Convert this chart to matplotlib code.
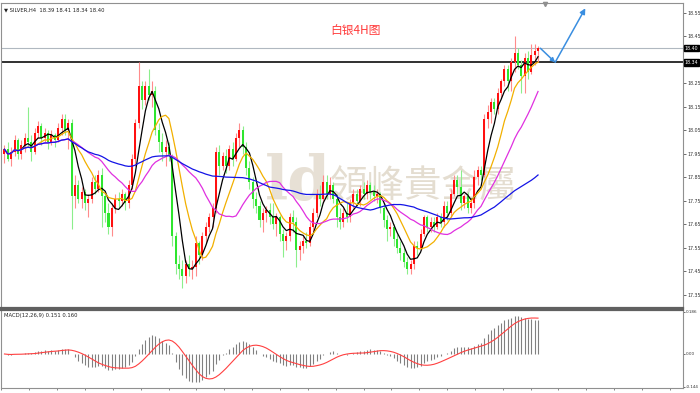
import numpy as np
import pandas as pd
import matplotlib
matplotlib.use("Agg")
import matplotlib.pyplot as plt

# SILVER H4 candles (open / high / low / close)
opens = [17.95, 17.97, 17.93, 17.96, 18.01, 17.95, 17.99, 18.02, 18.00, 17.96,
         18.04, 18.07, 18.02, 18.04, 18.00, 18.03, 18.01, 18.06, 18.10, 18.05,
         18.08, 17.77, 17.82, 17.76, 17.79, 17.74, 17.76, 17.83, 17.80, 17.86,
         17.77, 17.70, 17.64, 17.72, 17.76, 17.75, 17.78, 17.74, 17.82, 17.93,
         18.08, 18.24, 18.18, 18.24, 18.20, 18.22, 18.05, 18.00, 17.96, 17.98,
         17.94, 17.60, 17.48, 17.46, 17.43, 17.48, 17.46, 17.47, 17.57, 17.52,
         17.60, 17.64, 17.68, 17.72, 17.96, 17.90, 17.94, 17.90, 17.97, 17.93,
         18.02, 18.05, 17.98, 17.89, 17.83, 17.76, 17.73, 17.67, 17.70, 17.71,
         17.68, 17.65, 17.68, 17.61, 17.58, 17.60, 17.68, 17.66, 17.54, 17.56,
         17.58, 17.57, 17.64, 17.70, 17.78, 17.76, 17.83, 17.78, 17.82, 17.76,
         17.68, 17.66, 17.70, 17.68, 17.74, 17.78, 17.75, 17.80, 17.78, 17.82,
         17.79, 17.77, 17.78, 17.72, 17.67, 17.63, 17.64, 17.59, 17.55, 17.53,
         17.49, 17.46, 17.48, 17.56, 17.55, 17.61, 17.68, 17.64, 17.66, 17.64,
         17.68, 17.66, 17.73, 17.70, 17.78, 17.84, 17.81, 17.74, 17.77, 17.72,
         17.74, 17.85, 17.88, 17.86, 18.10, 18.13, 18.17, 18.14, 18.21, 18.26,
         18.31, 18.26, 18.34, 18.38, 18.33, 18.28, 18.36, 18.30, 18.37, 18.39]
highs = [17.99, 18.00, 17.98, 18.03, 18.02, 18.01, 18.04, 18.15, 18.03, 18.06,
         18.09, 18.08, 18.06, 18.05, 18.05, 18.04, 18.08, 18.12, 18.12, 18.10,
         18.10, 17.86, 17.84, 17.81, 17.80, 17.78, 17.85, 17.86, 17.88, 17.89,
         17.79, 17.74, 17.74, 17.78, 17.79, 17.80, 17.79, 17.84, 17.95, 18.10,
         18.34, 18.26, 18.26, 18.31, 18.26, 18.24, 18.08, 18.04, 18.01, 18.00,
         17.95, 17.62, 17.52, 17.50, 17.50, 17.52, 17.50, 17.60, 17.58, 17.62,
         17.66, 17.70, 17.74, 17.98, 17.99, 17.96, 17.97, 17.99, 18.00, 18.04,
         18.08, 18.07, 18.00, 17.92, 17.85, 17.79, 17.75, 17.72, 17.73, 17.74,
         17.74, 17.70, 17.69, 17.63, 17.62, 17.70, 17.71, 17.68, 17.58, 17.60,
         17.62, 17.66, 17.72, 17.80, 17.82, 17.86, 17.86, 17.85, 17.83, 17.78,
         17.72, 17.72, 17.74, 17.76, 17.80, 17.80, 17.82, 17.83, 17.84, 17.83,
         17.82, 17.80, 17.79, 17.74, 17.69, 17.66, 17.65, 17.61, 17.58, 17.55,
         17.51, 17.50, 17.58, 17.58, 17.63, 17.69, 17.69, 17.68, 17.68, 17.70,
         17.70, 17.75, 17.75, 17.80, 17.86, 17.86, 17.88, 17.78, 17.79, 17.76,
         17.88, 17.90, 17.90, 18.12, 18.16, 18.19, 18.19, 18.23, 18.27, 18.33,
         18.33, 18.36, 18.45, 18.40, 18.35, 18.38, 18.39, 18.42, 18.42, 18.41]
lows = [17.91, 17.92, 17.90, 17.94, 17.93, 17.93, 17.96, 17.98, 17.92, 17.95,
        18.02, 17.99, 18.00, 17.97, 17.99, 17.98, 18.00, 18.03, 18.03, 17.97,
        17.63, 17.72, 17.74, 17.72, 17.71, 17.68, 17.74, 17.78, 17.79, 17.64,
        17.66, 17.61, 17.60, 17.70, 17.72, 17.73, 17.71, 17.72, 17.80, 17.90,
        18.06, 18.14, 18.16, 18.18, 18.15, 18.03, 17.96, 17.92, 17.90, 17.92,
        17.56, 17.44, 17.42, 17.38, 17.40, 17.43, 17.42, 17.43, 17.48, 17.50,
        17.57, 17.62, 17.64, 17.70, 17.86, 17.88, 17.87, 17.88, 17.90, 17.92,
        17.98, 17.95, 17.86, 17.80, 17.72, 17.70, 17.64, 17.62, 17.66, 17.65,
        17.63, 17.60, 17.58, 17.51, 17.54, 17.58, 17.62, 17.47, 17.50, 17.53,
        17.55, 17.56, 17.62, 17.68, 17.73, 17.74, 17.76, 17.76, 17.74, 17.64,
        17.63, 17.64, 17.66, 17.66, 17.72, 17.73, 17.73, 17.76, 17.76, 17.76,
        17.75, 17.74, 17.70, 17.64, 17.58, 17.60, 17.56, 17.53, 17.50, 17.47,
        17.44, 17.44, 17.46, 17.52, 17.54, 17.60, 17.62, 17.62, 17.62, 17.63,
        17.64, 17.64, 17.67, 17.68, 17.77, 17.78, 17.71, 17.72, 17.70, 17.70,
        17.72, 17.82, 17.84, 17.85, 18.06, 18.08, 18.12, 18.12, 18.19, 18.24,
        18.22, 18.22, 18.30, 18.31, 18.21, 18.21, 18.27, 18.29, 18.33, 18.34]
closes = [17.97, 17.93, 17.96, 18.01, 17.95, 17.99, 18.02, 18.00, 17.96, 18.04,
          18.07, 18.02, 18.04, 18.00, 18.03, 18.01, 18.06, 18.10, 18.05, 18.08,
          17.77, 17.82, 17.76, 17.79, 17.74, 17.76, 17.83, 17.80, 17.86, 17.77,
          17.70, 17.64, 17.72, 17.76, 17.75, 17.78, 17.74, 17.82, 17.93, 18.08,
          18.24, 18.18, 18.24, 18.20, 18.22, 18.05, 18.00, 17.96, 17.98, 17.94,
          17.60, 17.48, 17.46, 17.43, 17.48, 17.46, 17.47, 17.57, 17.52, 17.60,
          17.64, 17.68, 17.72, 17.96, 17.90, 17.94, 17.90, 17.97, 17.93, 18.02,
          18.05, 17.98, 17.89, 17.83, 17.76, 17.73, 17.67, 17.70, 17.71, 17.68,
          17.65, 17.68, 17.61, 17.58, 17.60, 17.68, 17.66, 17.54, 17.56, 17.58,
          17.57, 17.64, 17.70, 17.78, 17.76, 17.83, 17.78, 17.82, 17.76, 17.68,
          17.66, 17.70, 17.68, 17.74, 17.78, 17.75, 17.80, 17.78, 17.82, 17.79,
          17.77, 17.78, 17.72, 17.67, 17.63, 17.64, 17.59, 17.55, 17.53, 17.49,
          17.46, 17.48, 17.56, 17.55, 17.61, 17.68, 17.64, 17.66, 17.64, 17.68,
          17.66, 17.73, 17.70, 17.78, 17.84, 17.81, 17.74, 17.77, 17.72, 17.74,
          17.85, 17.88, 17.86, 18.10, 18.13, 18.17, 18.14, 18.21, 18.26, 18.31,
          18.26, 18.34, 18.38, 18.33, 18.28, 18.36, 18.30, 18.37, 18.39, 18.40]

ma_periods = [5, 10, 20, 60]
ma_colors = ["#000000", "#f2b000", "#e030e0", "#1414e6"]

price_ticks = [18.55, 18.45, 18.25, 18.15, 18.05, 17.95, 17.85, 17.75,
               17.65, 17.55, 17.45, 17.35]
bid_price = 18.40
level_price = 18.34
macd_ticks = [0.186, 0.0, -0.144]
macd_tick_labels = ["0.186", "0.00", "-0.144"]

# hand-drawn forecast arrow (bar index, price)
arrow_x = [159.7, 164.1, 173.1]
arrow_y = [18.40, 18.34, 18.57]
shift_marker_x = 161.2

df = pd.DataFrame({"open": opens, "high": highs, "low": lows, "close": closes})
idx = np.arange(len(df))
up = df["close"] >= df["open"]

fig = plt.figure(figsize=(7, 3.93), dpi=100)
ax = fig.add_axes([0.0014, 0.2163, 0.9743, 0.7761])
ax2 = fig.add_axes([0.0014, 0.0115, 0.9743, 0.1997], sharex=ax)

# watermark
ax.text(0.435, 0.41, "ld", transform=ax.transAxes, fontsize=44, color="#ddd4c4",
        alpha=0.7, ha="center", va="center", family="DejaVu Serif", weight="bold", zorder=0)
ax.text(0.62, 0.40, "領峰貴金屬", transform=ax.transAxes, fontsize=27, color="#d9cfbd",
        alpha=0.7, ha="center", va="center", family="Noto Sans CJK TC", zorder=0)

# candles
wick_col = np.where(up, "#ff8c8c", "#8cee8c")
body_col = np.where(up, "#ff1010", "#2ee52e")
ax.vlines(idx, df["low"], df["high"], colors=wick_col, lw=0.8, zorder=2)
body_h = (df["close"] - df["open"]).abs().clip(lower=0.004)
ax.bar(idx, body_h, bottom=df[["open", "close"]].min(axis=1), width=0.6,
       color=body_col, zorder=3, linewidth=0)

# moving averages
for p, c in zip(ma_periods, ma_colors):
    ma = df["close"].rolling(p, min_periods=1).mean()
    ax.plot(idx, ma, color=c, lw=0.9, zorder=4)

# price lines
ax.axhline(bid_price, color="#b0b8c0", lw=0.8, zorder=1)
ax.axhline(level_price, color="#303030", lw=1.4, zorder=1)

# forecast arrows
ax.annotate("", xy=(arrow_x[1], arrow_y[1]), xytext=(arrow_x[0], arrow_y[0]),
            arrowprops=dict(arrowstyle="-|>", color="#3a8ee0", lw=1.1,
                            mutation_scale=6, shrinkA=0, shrinkB=0), zorder=5)
ax.annotate("", xy=(arrow_x[2], arrow_y[2]), xytext=(arrow_x[1], arrow_y[1]),
            arrowprops=dict(arrowstyle="-|>", color="#3a8ee0", lw=1.1,
                            mutation_scale=8, shrinkA=0, shrinkB=0), zorder=5)

ax.set_xlim(-1.04, 202.2)
ax.set_ylim(17.2947, 18.5926)
ax.yaxis.tick_right()
ax.set_yticks(price_ticks)
ax.set_yticklabels([f"{v:.2f}" for v in price_ticks])
ax.tick_params(axis="y", labelsize=3.4, length=2, width=0.5, colors="#333333", pad=1)
ax.tick_params(axis="x", bottom=False, labelbottom=False)
for lab, val in [(f"{bid_price:.2f}", bid_price), (f"{level_price:.2f}", level_price)]:
    ax.text(1.002, val, lab, transform=ax.get_yaxis_transform(), fontsize=3.4,
            color="white", va="center", ha="left",
            bbox=dict(boxstyle="square,pad=0.15", fc="black", ec="black"))

ax.text(355 / 683, 0.91, "白银4H图", transform=ax.transAxes, fontsize=8.5,
        color="#ff3b3b", ha="center", va="center", family=["Noto Sans CJK SC", "DejaVu Sans"])
ax.text(0.004, 0.985, "▼ SILVER,H4  18.39 18.41 18.34 18.40", transform=ax.transAxes,
        fontsize=3.8, color="#222222", ha="left", va="top")
ax.plot([shift_marker_x], [18.588], marker="v", ms=3, color="#909090", clip_on=False, zorder=6)

for s in ["left", "top", "right"]:
    ax.spines[s].set_color("#909090")
    ax.spines[s].set_linewidth(0.8)
ax.spines["bottom"].set_color("#606060")
ax.spines["bottom"].set_linewidth(1.6)

# MACD (12, 26, 9)
ema12 = df["close"].ewm(span=12, adjust=False).mean()
ema26 = df["close"].ewm(span=26, adjust=False).mean()
macd_main = ema12 - ema26
macd_signal = macd_main.rolling(9, min_periods=1).mean()
ax2.vlines(idx, 0, macd_main, colors="#808080", lw=0.8)
ax2.plot(idx, macd_signal, color="#ff4040", lw=0.8)
ax2.set_ylim(-0.1526, 0.1946)
ax2.yaxis.tick_right()
ax2.set_yticks(macd_ticks)
ax2.set_yticklabels(macd_tick_labels)
ax2.tick_params(axis="y", labelsize=3.0, length=1.5, width=0.5, colors="#333333", pad=0.8)
ax2.set_xticks(np.arange(-0.9, 202, 8.3))
ax2.tick_params(axis="x", length=1.5, width=0.5, colors="#555555", labelbottom=False)
ax2.text(0.004, 0.96, "MACD(12,26,9) 0.151 0.160", transform=ax2.transAxes,
         fontsize=3.8, color="#222222", ha="left", va="top")
for s in ["left", "bottom", "right"]:
    ax2.spines[s].set_color("#909090")
    ax2.spines[s].set_linewidth(0.8)
ax2.spines["top"].set_color("#606060")
ax2.spines["top"].set_linewidth(1.6)

fig.savefig("out.png", dpi=100)
